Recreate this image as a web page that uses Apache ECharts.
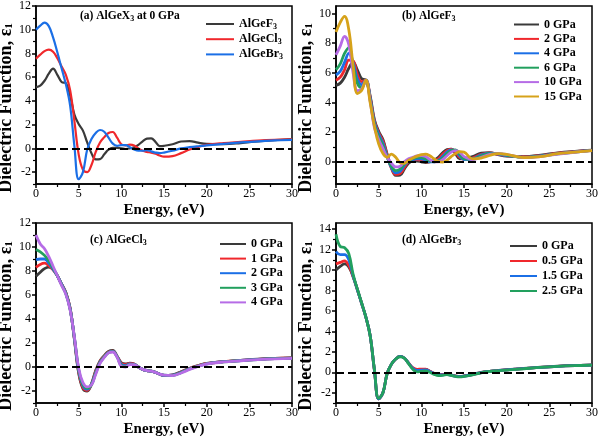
<!DOCTYPE html>
<html><head><meta charset="utf-8">
<script src="https://cdn.jsdelivr.net/npm/echarts@6/dist/echarts.min.js"></script>
<style>html,body{margin:0;padding:0;background:#fff}#c{width:600px;height:438px}</style>
</head><body><div id="c"></div>
<script>
// ---------- data ----------
const energy = [0,0.5,1,1.5,2,2.5,3,3.5,4,4.5,5,5.5,6,6.5,7,7.5,8,8.5,9,9.5,10,10.5,11,11.5,12,12.5,13,13.5,14,14.5,15,16,17,18,19,20,22,24,26,28,30];

// AlGeF3 (0 GPa) and pressures
const F_0  = [5.15,5.3,5.7,6.3,6.72, 6.2,5.6,5.5,4.45,2.85, 2.05,1.5,0.5,-0.4,-0.92, -0.9,-0.5,-0.1,0.05,0.05, 0.0,-0.05,0.0,0.1,0.3, 0.6,0.82,0.85,0.55,0.2, 0.22,0.35,0.58,0.62,0.48, 0.38,0.35,0.45,0.6,0.7, 0.78];
const F_2  = [5.5,5.7,6.2,6.85,6.8, 5.9,5.4,5.5,4.35,2.75, 1.95,1.4,0.45,-0.45,-0.85, -0.8,-0.4,0.0,0.1,0.15, 0.1,0.0,0.0,0.05,0.2, 0.5,0.75,0.85,0.65,0.3, 0.15,0.25,0.5,0.6,0.5, 0.4,0.33,0.42,0.58,0.68, 0.77];
const F_4  = [5.85,6.1,6.7,7.3,6.7, 5.6,5.2,5.5,4.3,2.65, 1.85,1.25,0.35,-0.4,-0.75, -0.65,-0.25,0.05,0.15,0.2, 0.2,0.1,0.0,0.0,0.1, 0.35,0.65,0.8,0.75,0.4, 0.15,0.2,0.45,0.58,0.52, 0.42,0.3,0.4,0.55,0.67, 0.76];
const F_6  = [6.2,6.6,7.3,7.7,6.5, 5.3,5.0,5.5,4.2,2.5, 1.7,1.1,0.3,-0.3,-0.6, -0.5,-0.15,0.1,0.2,0.3, 0.3,0.2,0.05,0.0,0.05, 0.25,0.55,0.75,0.8,0.5, 0.2,0.18,0.4,0.55,0.55, 0.45,0.3,0.38,0.53,0.65, 0.76];
const F_10 = [7.2,7.8,8.45,7.9,6.0, 4.8,4.9,5.5,4.1,2.3, 1.5,0.9,0.3,-0.1,-0.35, -0.3,0.0,0.2,0.3,0.4, 0.42,0.35,0.15,0.0,0.0, 0.15,0.4,0.65,0.75,0.65, 0.35,0.15,0.3,0.5,0.55, 0.5,0.28,0.35,0.52,0.64, 0.75];
const F_15 = [8.75,9.4,9.8,8.9,6.5, 4.6,4.8,5.5,4.0,2.4, 1.2,0.55,0.3,0.52,0.3, -0.05,-0.1,0.1,0.25,0.38, 0.48,0.52,0.4,0.2,0.02, -0.02,0.1,0.35,0.55,0.68, 0.65,0.2,0.25,0.42,0.55, 0.5,0.28,0.35,0.55,0.65, 0.75];

// AlGeCl3
const C_0 = [7.56,7.9,8.2,8.32,8.15, 7.6,6.9,6.2,4.9,2.3, -0.5,-1.8,-2.0,-1.4,-0.3, 0.5,0.95,1.3,1.38,0.9, 0.35,0.25,0.32,0.25,0.0, -0.2,-0.3,-0.35,-0.45,-0.6, -0.7,-0.65,-0.4,-0.1,0.12, 0.3,0.45,0.55,0.65,0.72, 0.76];
const C_1 = [8.3,8.55,8.65,8.45,8.1, 7.6,6.9,6.2,4.9,2.35, -0.4,-1.7,-1.95,-1.45,-0.35, 0.45,0.9,1.25,1.33,0.9, 0.3,0.2,0.3,0.24,0.0, -0.2,-0.3,-0.35,-0.45,-0.6, -0.7,-0.67,-0.42,-0.12,0.1, 0.28,0.45,0.55,0.64,0.71, 0.75];
const C_2 = [8.95,9.0,9.0,8.65,8.15, 7.6,6.9,6.15,4.85,2.4, -0.3,-1.55,-1.85,-1.45,-0.45, 0.4,0.85,1.22,1.3,0.88, 0.22,0.12,0.25,0.22,0.0, -0.2,-0.3,-0.35,-0.45,-0.6, -0.7,-0.68,-0.45,-0.15,0.08, 0.27,0.44,0.54,0.63,0.7, 0.74];
const C_3 = [9.8,9.6,9.3,8.85,8.25, 7.6,6.85,6.1,4.8,2.45, -0.2,-1.45,-1.75,-1.5,-0.5, 0.35,0.85,1.2,1.28,0.85, 0.12,0.05,0.22,0.2,0.0, -0.2,-0.3,-0.35,-0.45,-0.6, -0.68,-0.7,-0.47,-0.17,0.06, 0.26,0.43,0.53,0.62,0.69, 0.73];
const C_4 = [11.0,10.25,9.85,9.2,8.4, 7.6,6.8,6.05,4.75,2.5, -0.1,-1.3,-1.65,-1.5,-0.6, 0.3,0.8,1.18,1.25,0.82, 0.05,0.0,0.2,0.2,0.0, -0.2,-0.3,-0.35,-0.45,-0.6, -0.68,-0.72,-0.5,-0.2,0.05, 0.25,0.42,0.52,0.61,0.68, 0.72];

// AlGeBr3
const B_0   = [10.0,10.35,10.6,10.3,9.35, 8.1,6.75,5.4,3.6,0.2, -2.6,-2.0,-0.1,0.8,1.3, 1.55,1.4,0.9,0.4,0.22, 0.28,0.28,0.1,-0.1,-0.2, -0.2,-0.15,-0.25,-0.35,-0.4, -0.35,-0.2,0.0,0.1,0.18, 0.25,0.38,0.5,0.6,0.67, 0.72];
const B_05  = [10.6,10.75,10.9,10.45,9.4, 8.1,6.75,5.4,3.6,0.25, -2.6,-2.0,-0.1,0.8,1.3, 1.55,1.4,0.92,0.45,0.28, 0.32,0.3,0.1,-0.1,-0.2, -0.22,-0.17,-0.27,-0.37,-0.42, -0.37,-0.22,-0.02,0.1,0.17, 0.24,0.37,0.49,0.59,0.66, 0.71];
const B_15  = [11.8,11.5,11.5,11.0,9.45, 8.1,6.75,5.4,3.6,0.25, -2.6,-2.0,-0.1,0.8,1.3, 1.55,1.4,0.9,0.4,0.18, 0.22,0.24,0.08,-0.12,-0.25, -0.25,-0.2,-0.3,-0.38,-0.43, -0.38,-0.22,-0.02,0.1,0.17, 0.24,0.37,0.49,0.59,0.66, 0.71];
const B_25  = [13.5,12.3,12.2,11.6,9.6, 8.15,6.8,5.4,3.6,0.3, -2.55,-2.0,-0.1,0.8,1.3, 1.52,1.38,0.85,0.3,0.05, 0.1,0.15,0.0,-0.2,-0.32, -0.3,-0.22,-0.3,-0.4,-0.45, -0.4,-0.25,-0.05,0.08,0.15, 0.22,0.35,0.48,0.58,0.65, 0.7];

// names / labels
const namesA = ['AlGeF3','AlGeCl3','AlGeBr3'];
const namesB = ['0 GPa','2 GPa','4 GPa','6 GPa','10 GPa','15 GPa'];
const namesC = ['0 GPa','1 GPa','2 GPa','3 GPa','4 GPa'];
const namesD = ['0 GPa','0.5 GPa','1.5 GPa','2.5 GPa'];
const panelTitles = ['(a) AlGeX{s|3} at 0 GPa','(b) AlGeF{s|3}','(c) AlGeCl{s|3}','(d) AlGeBr{s|3}'];

// ticks
const xMajor = [0,5,10,15,20,25,30];
const yMajorA = [-2,0,2,4,6,8,10,12], yMinorA = [-3,-1,1,3,5,7,9,11];
const yMajorB = [0,2,4,6,8,10], yMinorB = [-1,1,3,5,7,9];
const yMajorC = [-2,0,2,4,6,8,10,12], yMinorC = [-3,-1,1,3,5,7,9,11];
const yMajorD = [-2,0,2,4,6,8,10,12,14], yMinorD = [-3,-1,1,3,5,7,9,11,13];

// ---------- styling ----------
const FF = '"Liberation Serif","Times New Roman",serif';
const COL = {k:'#3a3a3a', r:'#f0282c', b:'#1b6fe6', g:'#22a05e', p:'#b66ce6', o:'#d6a21a'};
const sub = {s:{fontSize:8, fontWeight:'bold', fontFamily:FF, color:'#000', padding:[5,0,0,0]}};

const grids = [
  {left:36, top:6, width:256, height:178},
  {left:336, top:6, width:256, height:178},
  {left:36, top:223, width:256, height:180},
  {left:336, top:223, width:256, height:180}
].map(g => Object.assign(g, {show:true, borderColor:'#000', borderWidth:1.5, backgroundColor:'transparent', containLabel:false, outerBoundsMode:'none'}));

const yRanges = [[-3,12,yMajorA,yMinorA],[-1.5,10.5,yMajorB,yMinorB],[-3,12,yMajorC,yMinorC],[-3,14.6,yMajorD,yMinorD]];

const xAxes = [], yAxes = [];
for (let i=0;i<4;i++){
  xAxes.push({type:'value', gridIndex:i, min:0, max:30, interval:5,
    axisLine:{show:true, onZero:false, lineStyle:{color:'#000', width:1.5}},
    axisTick:{show:true, inside:false, length:4, lineStyle:{color:'#000', width:1.5}},
    minorTick:{show:true, splitNumber:2, length:3, lineStyle:{color:'#000', width:1.2}},
    axisLabel:{fontSize:12, fontFamily:FF, color:'#000', margin:4},
    splitLine:{show:false},
    name:'Energy, (eV)', nameLocation:'middle', nameGap:19,
    nameTextStyle:{fontSize:15, fontWeight:'bold', fontFamily:FF, color:'#000'}});
  const [mn,mx,maj,mnr] = yRanges[i];
  yAxes.push({type:'value', gridIndex:i, min:mn, max:mx, position:'left',
    axisLine:{show:true, onZero:false, lineStyle:{color:'#000', width:1.5}},
    axisTick:{show:true, inside:false, length:4, customValues:maj, lineStyle:{color:'#000', width:1.5}},
    axisLabel:{customValues:maj, fontSize:12, fontFamily:FF, color:'#000', margin:5},
    splitLine:{show:false},
    name:'Dielectric Function, \u03b5{s|1}', nameLocation:'middle', nameGap:15,
    nameTextStyle:{fontSize:18, fontWeight:'bold', fontFamily:FF, color:'#000', padding:[0,26,0,0],
      rich:{s:{fontSize:11, fontWeight:'bold', fontFamily:FF, color:'#000', padding:[6,0,0,0]}}}});
  yAxes.push({type:'value', gridIndex:i, min:mn, max:mx, position:'left', offset:0,
    axisLine:{show:false}, axisLabel:{show:false}, splitLine:{show:false},
    axisTick:{show:true, inside:false, length:3, customValues:mnr, lineStyle:{color:'#000', width:1.2}}});
}

function pairs(v){ return energy.map((e,i)=>[e, v[i]]); }
const zeroLine = {silent:true, symbol:'none', label:{show:false},
  lineStyle:{type:[8,4], color:'#000', width:2}, data:[{yAxis:0}]};
// internal names carry a panel prefix so that the four legends stay independent
function line(panel, name, vals, color, gi, w, withZero){
  const s = {type:'line', name: panel + '|' + name, data:pairs(vals), xAxisIndex:gi, yAxisIndex:gi*2,
    smooth:0.4, symbol:'none', showSymbol:false, color,
    lineStyle:{color, width:w}, emphasis:{disabled:true}};
  if (withZero) s.markLine = zeroLine;
  return s;
}

const series = [
  line('a', namesA[0], F_0, COL.k, 0, 2.2, true),
  line('a', namesA[1], C_0, COL.r, 0, 2.2),
  line('a', namesA[2], B_0, COL.b, 0, 2.2),

  line('b', namesB[0], F_0, COL.k, 1, 2.8, true),
  line('b', namesB[1], F_2, COL.r, 1, 2.8),
  line('b', namesB[2], F_4, COL.b, 1, 2.8),
  line('b', namesB[3], F_6, COL.g, 1, 2.8),
  line('b', namesB[4], F_10, COL.p, 1, 2.8),
  line('b', namesB[5], F_15, COL.o, 1, 2.8),

  line('c', namesC[0], C_0, COL.k, 2, 2.8, true),
  line('c', namesC[1], C_1, COL.r, 2, 2.8),
  line('c', namesC[2], C_2, COL.b, 2, 2.8),
  line('c', namesC[3], C_3, COL.g, 2, 2.8),
  line('c', namesC[4], C_4, COL.p, 2, 2.8),

  line('d', namesD[0], B_0, COL.k, 3, 2.8, true),
  line('d', namesD[1], B_05, COL.r, 3, 2.8),
  line('d', namesD[2], B_15, COL.b, 3, 2.8),
  line('d', namesD[3], B_25, COL.g, 3, 2.8)
];

const legTS = {fontSize:12, fontWeight:'bold', fontFamily:FF, color:'#000', rich:sub};
const strip = n => n.slice(2);
const fmtSub = n => strip(n).replace(/(\d)$/, '{s|$1}');
const legends = [
  {data:namesA.map(n=>'a|'+n), left:205, top:18, itemWidth:28, itemHeight:14, itemGap:2.7, formatter:fmtSub},
  {data:namesB.map(n=>'b|'+n), left:513, top:18.5, itemWidth:25, itemHeight:12, itemGap:2.4, formatter:strip},
  {data:namesC.map(n=>'c|'+n), left:219, top:238, itemWidth:26, itemHeight:12, itemGap:2.6, formatter:strip},
  {data:namesD.map(n=>'d|'+n), left:509, top:240, itemWidth:27, itemHeight:12, itemGap:3, formatter:strip}
].map(l => Object.assign(l, {orient:'vertical', padding:0, selectedMode:false, textStyle:legTS,
  itemStyle:{opacity:0}}));

const titlePos = [[80,10],[402,10],[90,234],[402,234]];
const titles = panelTitles.map((t,i)=>({text:t, left:titlePos[i][0], top:titlePos[i][1], padding:0,
  textStyle:{fontSize:11.5, fontWeight:'bold', fontFamily:FF, color:'#000', rich:sub}}));

const chart = echarts.init(document.getElementById('c'), null, {renderer:'canvas'});
chart.setOption({
  animation:false, backgroundColor:'#fff',
  title:titles, legend:legends, grid:grids,
  xAxis:xAxes, yAxis:yAxes, series
});
</script></body></html>
